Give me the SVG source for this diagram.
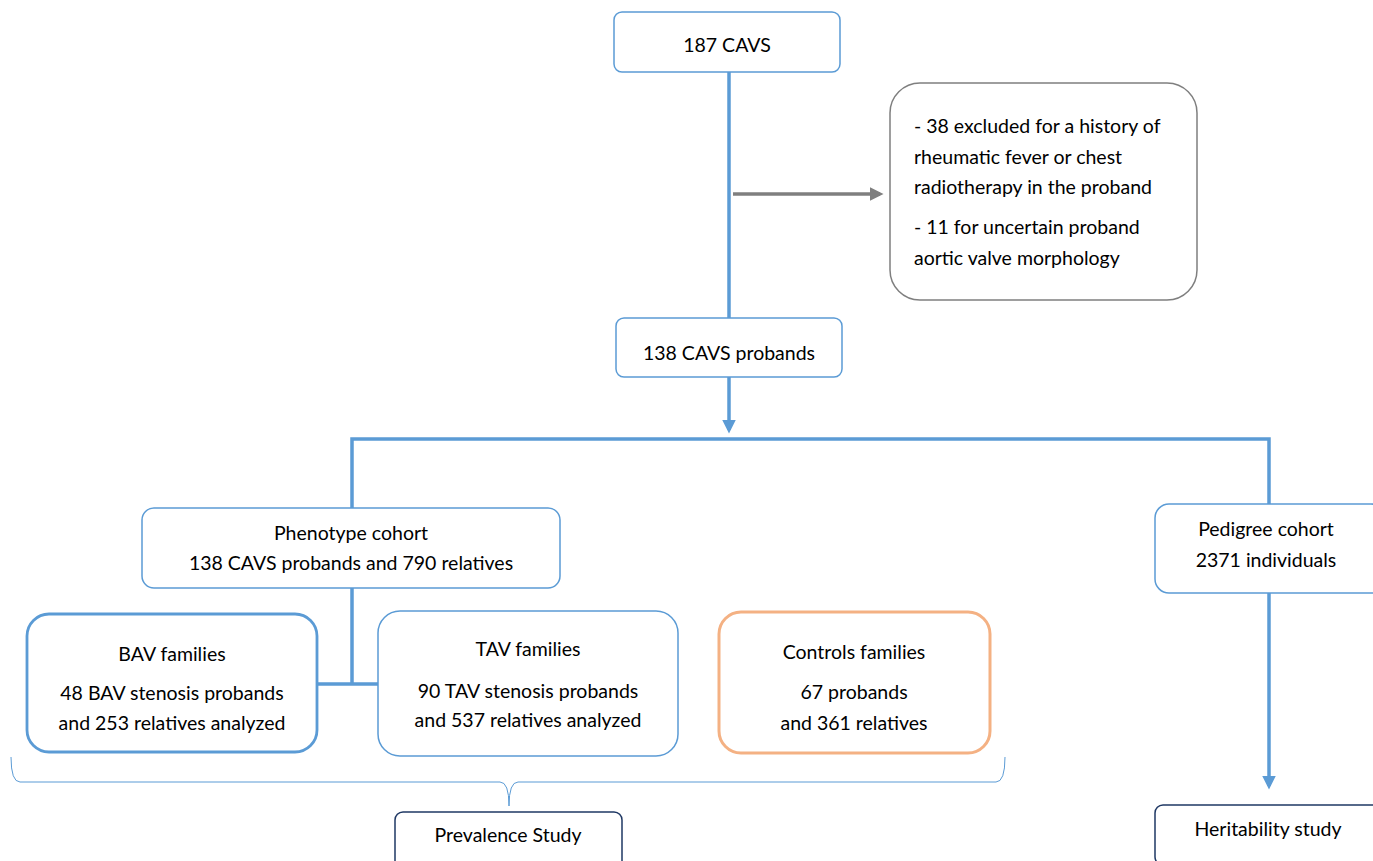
<svg xmlns="http://www.w3.org/2000/svg" width="1373" height="861" viewBox="0 0 1373 861">
<defs>
<style>
text{font-family:Lato,"Liberation Sans",sans-serif;font-size:19.5px;fill:#000;text-anchor:middle}
.l{text-anchor:start}
.b{fill:#fff;stroke:#5B9BD5;stroke-width:1.5}
.c{fill:none;stroke:#5B9BD5;stroke-width:3.5}
</style>
<marker id="ab" markerWidth="4" markerHeight="4" refX="3" refY="2" orient="auto" markerUnits="strokeWidth"><path d="M0,0 L4,2 L0,4 z" fill="#5B9BD5"/></marker>
<marker id="ag" markerWidth="4" markerHeight="4" refX="3" refY="2" orient="auto" markerUnits="strokeWidth"><path d="M0,0 L4,2 L0,4 z" fill="#7F7F7F"/></marker>
</defs>
<rect width="1373" height="861" fill="#fff"/>
<g id="connectors">
<path class="c" d="M729,72 V318"/>
<path d="M733,194 H880" fill="none" stroke="#7F7F7F" stroke-width="3.5" marker-end="url(#ag)"/>
<path class="c" d="M729,377 V430" marker-end="url(#ab)"/>
<path class="c" d="M352,508 V439 H1269 V504"/>
<path class="c" d="M352,588 V684 M318,684 H378"/>
<path class="c" d="M1269,593 V786" marker-end="url(#ab)"/>
<path d="M11,757 Q11,782 20,782 H500 Q509,782 509,806 Q509,782 518,782 H996 Q1005,782 1005,757" fill="none" stroke="#5B9BD5" stroke-width="1"/>
</g>
<g id="n1"><rect class="b" x="614" y="12" width="226" height="60" rx="8"/><text x="727" y="52">187 CAVS</text></g>
<g id="n2"><rect x="890" y="83" width="307" height="217" rx="30" fill="#fff" stroke="#7F7F7F" stroke-width="1.5"/>
<text class="l" x="914" y="133">- 38 excluded for a history of</text>
<text class="l" x="914" y="164">rheumatic fever or chest</text>
<text class="l" x="914" y="194">radiotherapy in the proband</text>
<text class="l" x="914" y="234">- 11 for uncertain proband</text>
<text class="l" x="914" y="265">aortic valve morphology</text></g>
<g id="n3"><rect class="b" x="616" y="318" width="226" height="59" rx="8"/><text x="729" y="360">138 CAVS probands</text></g>
<g id="n4"><rect class="b" x="142" y="508" width="418" height="80" rx="12"/><text x="351" y="540">Phenotype cohort</text><text x="351" y="570">138 CAVS probands and 790 relatives</text></g>
<g id="n5"><rect class="b" x="27" y="614" width="290" height="138" rx="22" style="stroke-width:2.8"/><text x="172" y="661">BAV families</text><text x="172" y="700">48 BAV stenosis probands</text><text x="172" y="730">and 253 relatives analyzed</text></g>
<g id="n6"><rect class="b" x="378" y="611" width="300" height="145" rx="22"/><text x="528" y="656">TAV families</text><text x="528" y="698">90 TAV stenosis probands</text><text x="528" y="727">and 537 relatives analyzed</text></g>
<g id="n7"><rect x="719" y="612" width="271" height="141" rx="22" fill="#fff" stroke="#F4B183" stroke-width="3"/><text x="854" y="659">Controls families</text><text x="854" y="699">67 probands</text><text x="854" y="730">and 361 relatives</text></g>
<g id="n8"><rect class="b" x="1155" y="504" width="230" height="89" rx="14"/><text x="1266" y="536">Pedigree cohort</text><text x="1266" y="567">2371 individuals</text></g>
<g id="n9"><rect x="395" y="812" width="227" height="60" rx="8" fill="#fff" stroke="#1F3864" stroke-width="1.5"/><text x="508" y="842">Prevalence Study</text></g>
<g id="n10"><rect x="1155" y="805" width="230" height="60" rx="8" fill="#fff" stroke="#1F3864" stroke-width="1.5"/><text x="1268" y="836">Heritability study</text></g>
</svg>
